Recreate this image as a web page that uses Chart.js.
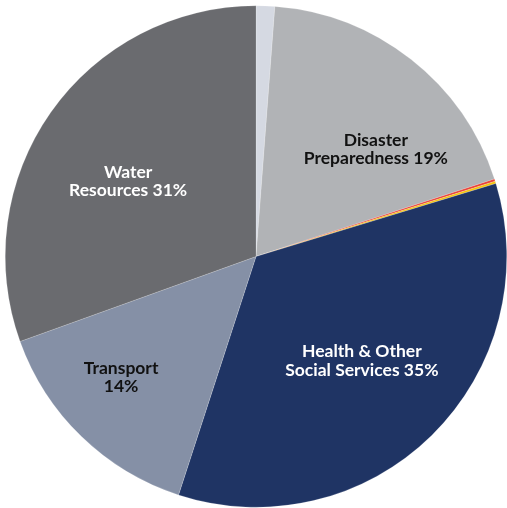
<!DOCTYPE html>
<html>
<head>
<meta charset="utf-8">
<script src="https://cdn.jsdelivr.net/npm/chart.js@4"></script>
<style>
  html, body { margin: 0; padding: 0; background: #fff; }
  #wrap { width: 507px; height: 508px; }
</style>
</head>
<body>
<div id="wrap"><canvas id="pie"></canvas></div>
<script>
// slices clockwise from 12 o'clock
const categories = ['Other', 'Disaster Preparedness', 'Other A', 'Other B',
  'Health & Other Social Services', 'Transport', 'Water Resources'];
const shares = [1.2, 18.8, 0.15, 0.15, 34.7, 14.5, 30.5];
const sliceColors = ['#d5d9e2', '#b1b3b6', '#e8433a', '#f4c20d', '#1f3464', '#8590a6', '#6a6b6f'];

// label text per slice index
const labelLines = {
  1: ['Disaster', 'Preparedness 19%'],
  4: ['Health & Other', 'Social Services 35%'],
  5: ['Transport', '14%'],
  6: ['Water', 'Resources 31%']
};

// label anchor, in radius units from the pie centre
const labelSpots = {
  1: { fx: 0.478, fy: -0.428, color: '#111' },
  4: { fx: 0.422, fy: 0.416, color: '#fff' },
  5: { fx: -0.538, fy: 0.482, color: '#111' },
  6: { fx: -0.51, fy: -0.30, color: '#fff' }
};

const sliceLabels = {
  id: 'sliceLabels',
  afterDatasetsDraw(chart) {
    const ctx = chart.ctx;
    const arcs = chart.getDatasetMeta(0).data;
    ctx.save();
    ctx.font = 'bold 17.5px Lato, "Open Sans", sans-serif';
    ctx.textAlign = 'center';
    ctx.textBaseline = 'middle';
    Object.keys(labelLines).forEach(i => {
      const arc = arcs[i];
      const spot = labelSpots[i];
      const x = arc.x + spot.fx * arc.outerRadius;
      const y = arc.y + spot.fy * arc.outerRadius;
      const lines = labelLines[i];
      ctx.fillStyle = spot.color;
      lines.forEach((t, k) => {
        ctx.fillText(t, x, y + (k - (lines.length - 1) / 2) * 18.5);
      });
    });
    ctx.restore();
  }
};

new Chart(document.getElementById('pie'), {
  type: 'pie',
  data: {
    labels: categories,
    datasets: [{
      data: shares,
      backgroundColor: sliceColors,
      borderColor: 'rgba(255,255,255,0.35)',
      borderWidth: 0.5
    }]
  },
  options: {
    responsive: true,
    maintainAspectRatio: false,
    animation: false,
    layout: { padding: { left: 5, top: 5, right: 0, bottom: 0 } },
    plugins: {
      legend: { display: false },
      tooltip: { enabled: false }
    }
  },
  plugins: [sliceLabels]
});
</script>
</body>
</html>
